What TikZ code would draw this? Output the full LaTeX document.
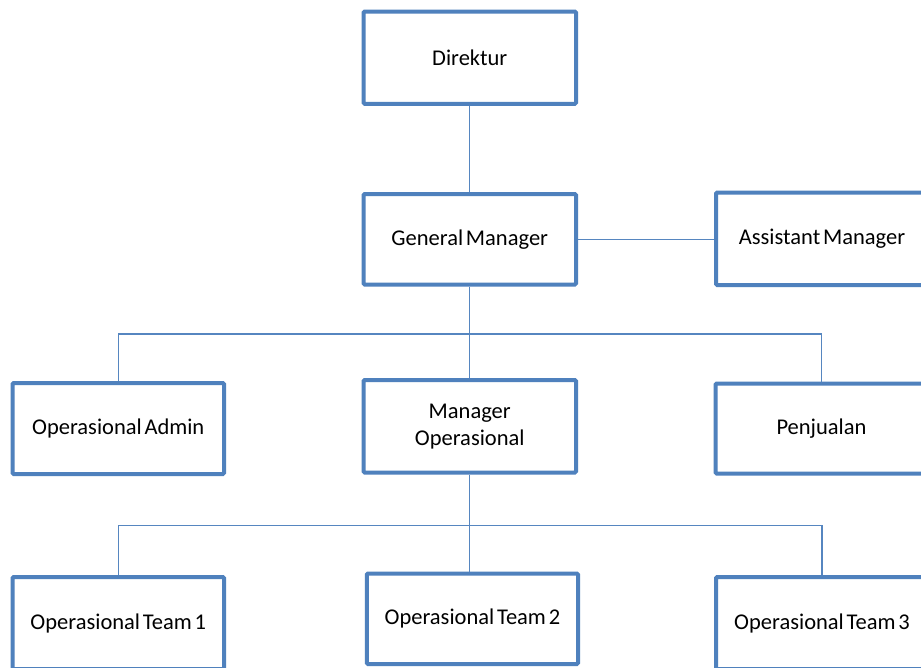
\documentclass[tikz,border=0pt]{standalone}
\usepackage{fontspec}
\setmainfont[WordSpace=0.55]{Carlito}
\definecolor{boxblue}{HTML}{4F81BD}
\definecolor{linkblue}{HTML}{5686C0}
\begin{document}
\begin{tikzpicture}[x=1pt,y=-1pt,
  box/.style={draw=boxblue, line width=4pt, rectangle, rounded corners=1.2pt, fill=white,
    minimum width=212.5pt, minimum height=91pt, inner sep=0pt, align=center,
    font=\fontsize{22.5}{27}\selectfont, text=black},
  link/.style={draw=linkblue, line width=1.4pt}]
\clip (0,0) rectangle (921,667);
\fill[white] (0,0) rectangle (921,667);
\node[box, minimum height=92.3pt] (dir) at (469.75,57.65) {Direktur};
\node[box, minimum height=90.5pt] (gm) at (469.75,239.25) {General Manager};
\node[box, minimum height=92.5pt, minimum width=212pt] (am) at (822,238.75) {Assistant Manager};
\node[box, minimum width=211.5pt] (adm) at (118.25,428.5) {Operasional Admin};
\node[box, minimum height=92.5pt] (mo) at (469.75,426.25) {Manager\\Operasional};
\node[box, minimum height=90pt, minimum width=212pt] (pen) at (821.5,428.5) {Penjualan};
\node[box, minimum width=211.5pt, minimum height=92pt] (t1) at (118.25,623) {Operasional Team 1};
\node[box, minimum width=211.2pt, minimum height=90.5pt] (t2) at (472.4,618.75) {Operasional Team 2};
\node[box, minimum width=212pt, minimum height=92pt] (t3) at (822,623) {Operasional Team 3};
\coordinate (bar1) at (469.75,334);
\coordinate (bar2) at (469.75,525.7);
\draw[link] (dir.south) -- (gm.north);
\draw[link] (gm.east) -- (gm.east -| am.west);
\draw[link] (gm.south) -- (mo.north);
\draw[link] (adm.north) |- (bar1) -| (pen.north);
\draw[link] (mo.south) -- (mo.south |- t2.north);
\draw[link] (t1.north) |- (bar2) -| (t3.north);
\end{tikzpicture}
\end{document}
